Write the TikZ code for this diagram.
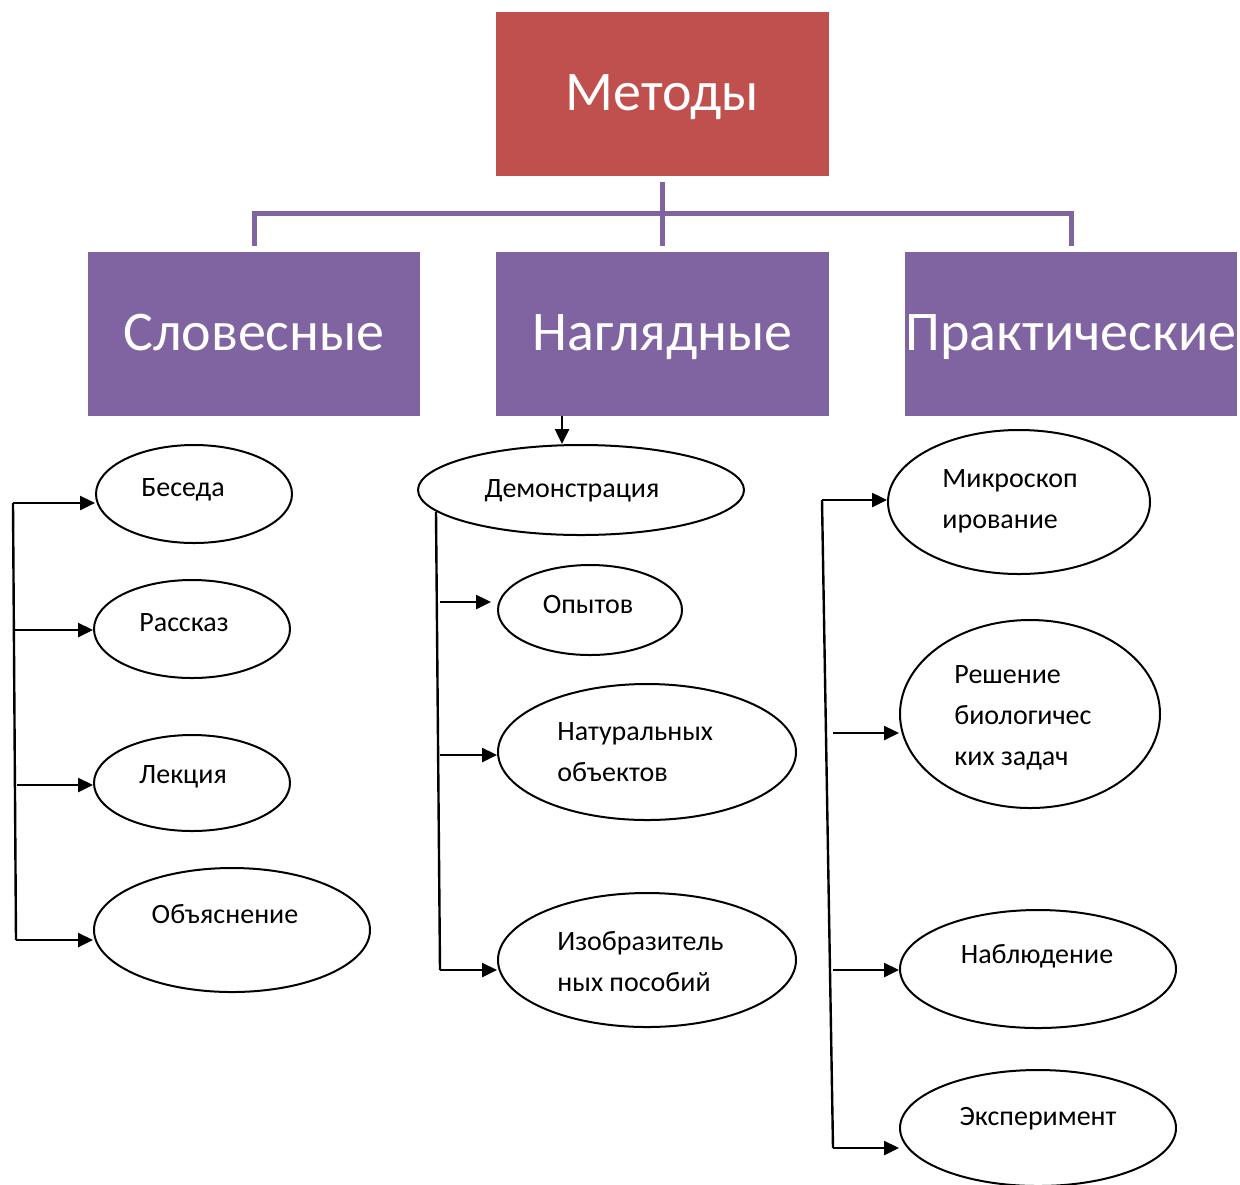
\documentclass[tikz,border=0pt]{standalone}
\usepackage{fontspec}
\setmainfont{Carlito}
\usetikzlibrary{arrows.meta,shapes.geometric}
\definecolor{mred}{HTML}{C0504D}
\definecolor{mpurple}{HTML}{8064A2}
\begin{document}
\begin{tikzpicture}[x=0.5pt,y=-0.5pt,
  redbox/.style={rectangle,fill=mred,draw=none,minimum width=166.5pt,minimum height=82pt,inner sep=0},
  purbox/.style={rectangle,fill=mpurple,draw=none,minimum width=166pt,minimum height=82pt,inner sep=0},
  bigtxt/.style={text=white,font=\fontsize{28}{34}\selectfont,anchor=base,inner sep=0},
  oval/.style={ellipse,draw=black,line width=1pt,inner sep=0},
  ltxt/.style={font=\fontsize{14}{20.5}\selectfont,anchor=base,inner sep=0},
  mtxt/.style={font=\fontsize{14}{20.5}\selectfont,anchor=base west,align=left,inner sep=0},
  pline/.style={draw=mpurple,line width=2.5pt},
  arr/.style={line width=1.25pt,-{Triangle[length=7.5pt,width=7pt]}},
  bus/.style={line width=1.2pt}]
\useasboundingbox (0,0) rectangle (1240,1184);

% top-level boxes
\node[redbox] (top) at (662.5,94) {};
\node[bigtxt] (topt) at (662.5,110) {Методы};
\node[purbox] (slov) at (254,334) {};
\node[bigtxt] (slovt) at (254,350) {Словесные};
\node[purbox,minimum width=166.5pt] (nagl) at (662.5,334) {};
\node[bigtxt] (naglt) at (662.5,350) {Наглядные};
\node[purbox] (prak) at (1071,334) {};
\node[bigtxt] (prakt) at (1071,350) {Практические};

% purple connectors
\coordinate (hb) at (662,213);
\draw[pline] ([yshift=-3pt]top.south) -- ([yshift=3pt]nagl.north);
\draw[pline] ([yshift=3pt]slov.north) -- (slov.north |- hb) -- (prak.north |- hb) -- ([yshift=3pt]prak.north);

% left column
\node[oval,minimum width=98pt,minimum height=49pt] (besed) at (194,494) {};
\node[ltxt] (besedt) at (183,496) {Беседа};
\node[oval,minimum width=98pt,minimum height=49pt] (rassk) at (192,629) {};
\node[ltxt] (rasskt) at (184,631) {Рассказ};
\node[oval,minimum width=98pt,minimum height=48pt] (lekc) at (192,783) {};
\node[ltxt] (lekct) at (183,783) {Лекция};
\node[oval,minimum width=138pt,minimum height=62pt] (obya) at (232,930) {};
\node[ltxt] (obyat) at (225,923) {Объяснение};

\coordinate (lb1) at (13,503);
\coordinate (lb2) at (14,630);
\coordinate (lb3) at (17,785);
\coordinate (lb4) at (16,940);
\draw[bus] (lb1) -- (lb4);
\draw[arr] (lb1) -- (lb1 -| besed.west);
\draw[arr] (lb2) -- (lb2 -| rassk.west);
\draw[arr] (lb3) -- (lb3 -| lekc.west);
\draw[arr] (lb4) -- (lb4 -| obya.west);

% middle column
\node[oval,minimum width=163pt,minimum height=45pt] (demo) at (581,490) {};
\node[ltxt] (demot) at (572,497) {Демонстрация};
\node[oval,minimum width=92pt,minimum height=45pt] (opyt) at (590,610) {};
\node[ltxt] (opytt) at (588,613) {Опытов};
\node[oval,minimum width=149pt,minimum height=68pt] (natu) at (647,752) {};
\node[mtxt] (natut) at (557,781) {Натуральных\\объектов};
\node[oval,minimum width=149pt,minimum height=67pt] (izob) at (647,960) {};
\node[mtxt] (izobt) at (557,991) {Изобразитель\\ных пособий};

\draw[arr] ([xshift=-50.25pt]nagl.south) -- ([xshift=-50.25pt]nagl.south |- demo.north);
\coordinate (mb0) at (436,512);
\coordinate (mb1) at (440,602);
\coordinate (mb2) at (440,755);
\coordinate (mb3) at (440,970);
\draw[bus] (mb0) -- (mb3);
\draw[arr,shorten >=3pt] (mb1) -- (mb1 -| opyt.west);
\draw[arr] (mb2) -- (mb2 -| natu.west);
\draw[arr] (mb3) -- (mb3 -| izob.west);

% right column
\node[oval,minimum width=131pt,minimum height=72pt] (mikr) at (1019,502) {};
\node[mtxt] (mikrt) at (942,528) {Микроскоп\\ирование};
\node[oval,minimum width=130pt,minimum height=94pt] (resh) at (1030,714) {};
\node[mtxt] (resht) at (954,765) {Решение\\биологичес\\ких задач};
\node[oval,minimum width=138pt,minimum height=59pt] (nabl) at (1038,969) {};
\node[ltxt] (nablt) at (1037,963) {Наблюдение};
\node[oval,minimum width=138pt,minimum height=58pt] (eksp) at (1038,1128) {};
\node[ltxt] (ekspt) at (1038,1125) {Эксперимент};

\coordinate (rb0) at (822,500);
\coordinate (rb4) at (833,1148);
\coordinate (rb2) at (833,733);
\coordinate (rb3) at (833,970);
\draw[bus] (rb0) -- (rb4);
\draw[arr] (rb0) -- (rb0 -| mikr.west);
\draw[arr] (rb2) -- (rb2 -| resh.west);
\draw[arr] (rb3) -- (rb3 -| nabl.west);
\draw[arr] (rb4) -- (rb4 -| eksp.west);
\end{tikzpicture}
\end{document}
